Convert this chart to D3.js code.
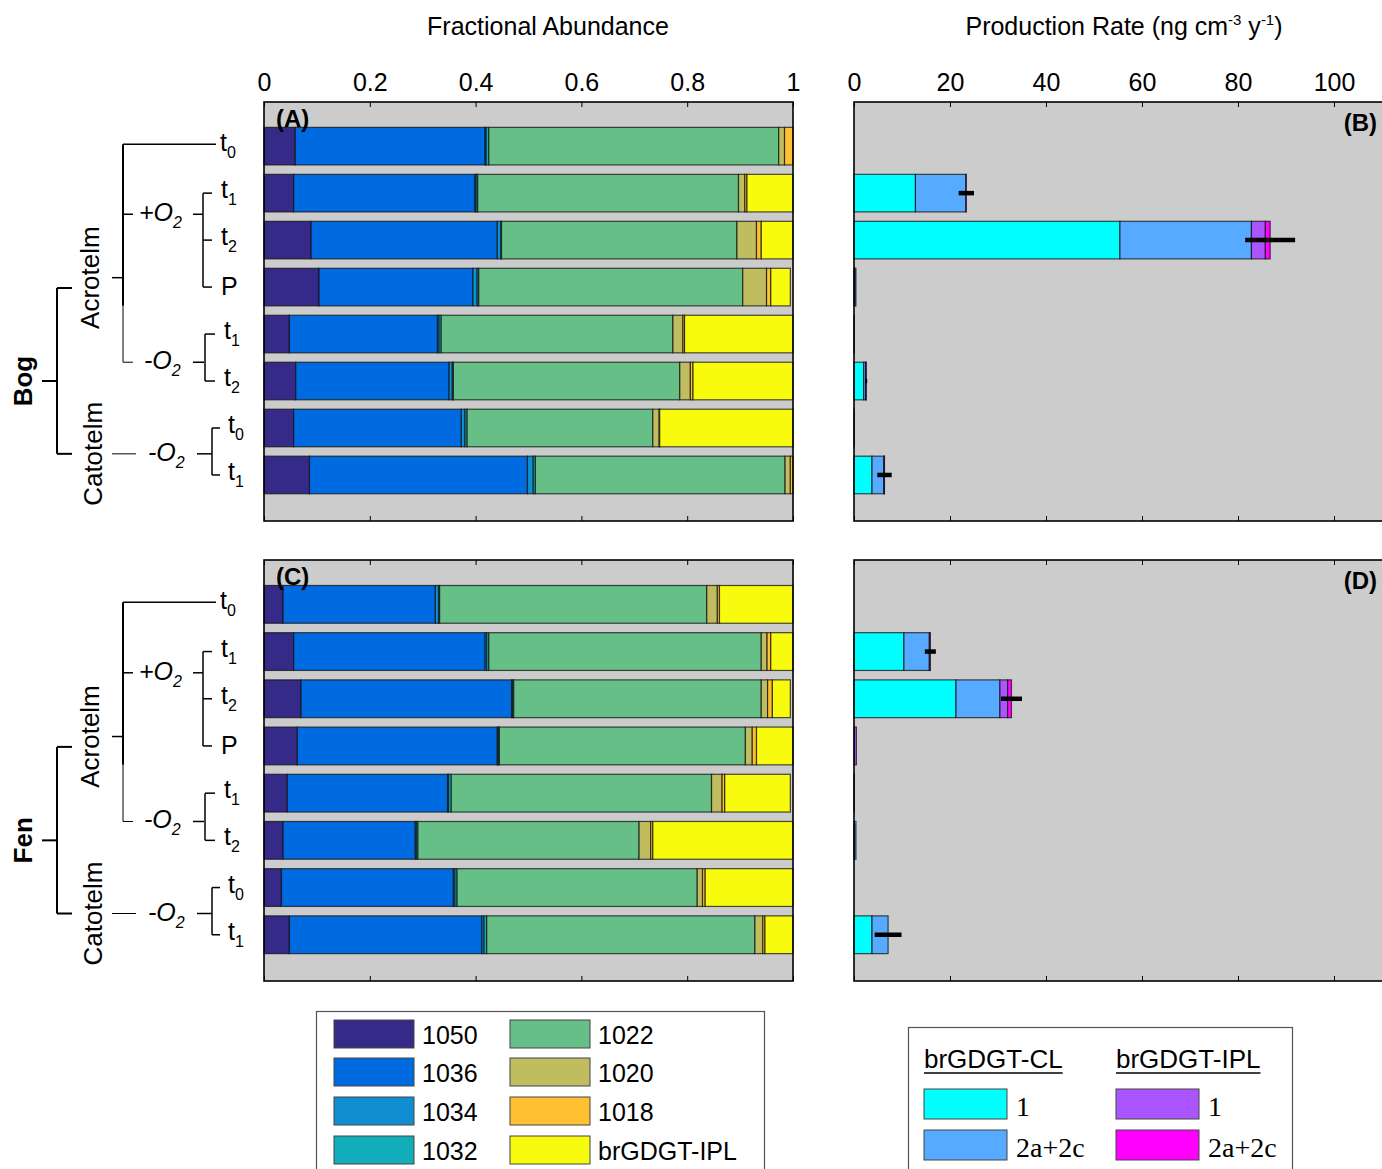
<!DOCTYPE html>
<html>
<head>
<meta charset="utf-8">
<script src="https://cdn.jsdelivr.net/npm/d3@7/dist/d3.min.js"></script>
<style>
body { margin: 0; background: #fff; }
svg { font-family: "Liberation Sans", Arial, sans-serif; }
</style>
</head>
<body>
<svg id="chart" width="1382" height="1169"></svg>
<script>
// compounds in stacking order
var compounds = ["1050", "1036", "1034", "1032", "1022", "1020", "1018", "brGDGT-IPL"];
var compoundColors = ["#352a87", "#006ae0", "#108ed2", "#12adba", "#66bf87", "#bfbd60", "#ffc132", "#f9fb0e"];

// rows, top to bottom: Acro t0, +O2 t1, +O2 t2, +O2 P, -O2 t1, -O2 t2, Cato t0, Cato t1
var rowLabels = ["0", "1", "2", "P", "1", "2", "0", "1"];

// fractional abundance, bog
var bog1050 = [0.059, 0.056, 0.089, 0.104, 0.048, 0.060, 0.056, 0.086];
var bog1036 = [0.359, 0.343, 0.352, 0.291, 0.280, 0.290, 0.317, 0.412];
var bog1034 = [0.002, 0.002, 0.007, 0.008, 0.003, 0.006, 0.007, 0.011];
var bog1032 = [0.005, 0.003, 0.001, 0.003, 0.004, 0.002, 0.004, 0.004];
var bog1022 = [0.548, 0.493, 0.445, 0.499, 0.438, 0.428, 0.351, 0.472];
var bog1020 = [0.011, 0.012, 0.037, 0.045, 0.019, 0.020, 0.012, 0.010];
var bog1018 = [0.016, 0.004, 0.009, 0.008, 0.003, 0.005, 0.001, 0.005];
var bogIPL  = [0.000, 0.087, 0.060, 0.037, 0.205, 0.189, 0.252, 0.000];

// fractional abundance, fen
var fen1050 = [0.036, 0.056, 0.070, 0.063, 0.044, 0.036, 0.033, 0.048];
var fen1036 = [0.288, 0.362, 0.398, 0.378, 0.303, 0.250, 0.325, 0.364];
var fen1034 = [0.006, 0.003, 0.002, 0.002, 0.002, 0.002, 0.003, 0.004];
var fen1032 = [0.002, 0.004, 0.002, 0.002, 0.005, 0.003, 0.004, 0.005];
var fen1022 = [0.505, 0.515, 0.468, 0.465, 0.492, 0.418, 0.454, 0.507];
var fen1020 = [0.020, 0.011, 0.012, 0.013, 0.020, 0.022, 0.010, 0.015];
var fen1018 = [0.004, 0.007, 0.009, 0.008, 0.005, 0.004, 0.005, 0.004];
var fenIPL  = [0.139, 0.042, 0.034, 0.069, 0.124, 0.265, 0.166, 0.053];

// production rate (ng cm-3 y-1)
var rateKeys = ["CL 1", "CL 2a+2c", "IPL 1", "IPL 2a+2c"];
var rateColors = ["#00ffff", "#56aaff", "#aa55ff", "#ff00ff"];
var bogCL1  = [0, 12.8, 55.4, 0.2, 0, 2.0, 0, 3.75];
var bogCL2  = [0, 10.5, 27.4, 0.2, 0, 0.4, 0, 2.45];
var bogIPL1 = [0, 0, 2.9, 0, 0, 0.1, 0, 0.1];
var bogIPL2 = [0, 0.1, 1.0, 0, 0.05, 0.05, 0.05, 0.05];
var bogErr  = [0, 1.6, 5.2, 0, 0, 0.2, 0, 1.5];

var fenCL1  = [0, 10.4, 21.25, 0, 0, 0.1, 0, 3.75];
var fenCL2  = [0, 5.3, 9.15, 0, 0, 0.3, 0, 3.35];
var fenIPL1 = [0, 0.1, 1.6, 0.5, 0, 0, 0, 0];
var fenIPL2 = [0, 0.1, 0.8, 0, 0.05, 0, 0, 0];
var fenErr  = [0, 1.15, 2.2, 0, 0, 0, 0, 2.8];

var fracTicks = [0, 0.2, 0.4, 0.6, 0.8, 1];
var rateTicks = [0, 20, 40, 60, 80, 100];

var svg = d3.select("#chart");

function table(keys, arrays) {
	return arrays[0].map(function(v, i) {
		var r = {row: i + 1};
		keys.forEach(function(k, j) { r[k] = arrays[j][i]; });
		return r;
	});
}

var bogFrac = table(compounds, [bog1050, bog1036, bog1034, bog1032, bog1022, bog1020, bog1018, bogIPL]);
var fenFrac = table(compounds, [fen1050, fen1036, fen1034, fen1032, fen1022, fen1020, fen1018, fenIPL]);
var bogRate = table(rateKeys, [bogCL1, bogCL2, bogIPL1, bogIPL2]);
var fenRate = table(rateKeys, [fenCL1, fenCL2, fenIPL1, fenIPL2]);

var xFrac = d3.scaleLinear().domain([0, 1]).range([264, 793]);
var xRate = d3.scaleLinear().domain([0, 110]).range([854, 1382]);

function stackPanel(data, keys, colors, x, y, top, bottom) {
	var g = svg.append("g");
	g.append("rect")
		.attr("x", x.range()[0]).attr("y", top)
		.attr("width", x.range()[1] - x.range()[0] + (x === xRate ? 4 : 0))
		.attr("height", bottom - top)
		.attr("fill", "#cccccc");
	var barH = (y(2) - y(1)) * 0.8;
	var series = d3.stack().keys(keys)(data);
	g.selectAll("g.ser")
		.data(series)
		.enter().append("g")
		.attr("fill", function(d, i) { return colors[i]; })
		.selectAll("rect")
		.data(function(d) { return d.filter(function(s) { return s[1] - s[0] > 0; }); })
		.enter().append("rect")
		.attr("x", function(d) { return x(d[0]); })
		.attr("width", function(d) { return x(d[1]) - x(d[0]); })
		.attr("y", function(d) { return y(d.data.row) - barH / 2; })
		.attr("height", barH)
		.attr("stroke", "#111")
		.attr("stroke-opacity", 0.75)
		.attr("stroke-width", 1.2);
	return g;
}

function axes(x, ticks, top, bottom, labels) {
	var ax = svg.append("g").attr("transform", "translate(0," + top + ")")
		.call(d3.axisTop(x).tickValues(ticks).tickSize(-5).tickPadding(11)
			.tickFormat(labels ? d3.format("~g") : ""));
	ax.select(".domain").remove();
	ax.selectAll("text").attr("font-size", 25).attr("fill", "#000")
		.attr("font-family", "Liberation Sans, Arial, sans-serif");
	var bx = svg.append("g").attr("transform", "translate(0," + bottom + ")")
		.call(d3.axisBottom(x).tickValues(ticks).tickSize(-5).tickFormat(""));
	bx.select(".domain").remove();
}

function box(x0, x1, top, bottom) {
	svg.append("rect")
		.attr("x", x0).attr("y", top).attr("width", x1 - x0).attr("height", bottom - top)
		.attr("fill", "none").attr("stroke", "#000").attr("stroke-width", 1.6);
}

function errorBars(data, errs, y) {
	svg.append("g").selectAll("line")
		.data(data.filter(function(d, i) { return errs[i] > 0; }))
		.enter().append("line")
		.attr("x1", function(d) { var t = d3.sum(rateKeys, function(k) { return d[k]; }); return xRate(t - errs[d.row - 1]); })
		.attr("x2", function(d) { var t = d3.sum(rateKeys, function(k) { return d[k]; }); return xRate(t + errs[d.row - 1]); })
		.attr("y1", function(d) { return y(d.row); })
		.attr("y2", function(d) { return y(d.row); })
		.attr("stroke", "#000").attr("stroke-width", 4.5);
}

function line(x1, y1, x2, y2, w) {
	svg.append("line").attr("x1", x1).attr("y1", y1).attr("x2", x2).attr("y2", y2)
		.attr("stroke", "#000").attr("stroke-width", w || 1.5);
}

function label(txt, sub, x, yy, italic) {
	var t = svg.append("text").attr("x", x).attr("y", yy).attr("font-size", 25)
		.attr("font-style", italic ? "italic" : "normal").text(txt);
	if (sub) t.append("tspan").attr("font-size", 16).attr("dy", 7).text(sub);
}

function tree(y, site) {
	// acrotelm branch
	line(123, y(1) - 2, 216, y(1) - 2);
	label("t", rowLabels[0], 220, y(1) + 5);
	line(123, y(1) - 2, 123, y(4.4), 2);
	line(123, y(4.4), 123, y(5.6), 1);
	line(123, y(2.45), 133, y(2.45));
	label("+O", "2", 139, y(2.45) + 7, true);
	line(193, y(2.45), 203, y(2.45));
	line(203, y(2), 203, y(4));
	[2, 3, 4].forEach(function(r) {
		line(203, y(r), 212, y(r));
		label(rowLabels[r - 1] === "P" ? "P" : "t", rowLabels[r - 1] === "P" ? null : rowLabels[r - 1], 221, y(r) + (rowLabels[r - 1] === "P" ? 8 : 5));
	});
	line(123, y(5.6), 133, y(5.6), 1);
	label("-O", "2", 144, y(5.6) + 7, true);
	line(193, y(5.6), 204, y(5.6));
	line(205, y(5), 205, y(6));
	[5, 6].forEach(function(r) {
		line(205, y(r), 215, y(r));
		label("t", rowLabels[r - 1], 224, y(r) + 5);
	});
	line(112, y(3.8), 123, y(3.8));
	// catotelm branch
	line(112, y(7.55), 136, y(7.55), 1);
	label("-O", "2", 148, y(7.55) + 7, true);
	line(197, y(7.55), 212, y(7.55));
	line(212, y(7), 212, y(8));
	[7, 8].forEach(function(r) {
		line(212, y(r), 220, y(r));
		label("t", rowLabels[r - 1], 228, y(r) + 5);
	});
	// site bracket
	line(57, y(4.02), 57, y(7.55), 2);
	line(57, y(4.02), 72, y(4.02), 2);
	line(57, y(7.55), 72, y(7.55), 2);
	line(42, y(6), 57, y(6), 2);
	svg.append("text").attr("transform", "translate(90," + y(3.8) + ") rotate(-90)")
		.attr("text-anchor", "middle").attr("dy", "0.35em").attr("font-size", 26).text("Acrotelm");
	svg.append("text").attr("transform", "translate(93," + y(7.55) + ") rotate(-90)")
		.attr("text-anchor", "middle").attr("dy", "0.35em").attr("font-size", 26).text("Catotelm");
	svg.append("text").attr("transform", "translate(23," + y(6) + ") rotate(-90)")
		.attr("text-anchor", "middle").attr("dy", "0.35em").attr("font-size", 26)
		.attr("font-weight", "bold").text(site);
}

function panelLabel(txt, x, yy, anchor) {
	svg.append("text").attr("x", x).attr("y", yy).attr("font-size", 24)
		.attr("font-weight", "bold").attr("text-anchor", anchor).text(txt);
}

// bog (top) and fen (bottom)
var panels = [
	{site: "Bog", frac: bogFrac, rate: bogRate, err: bogErr, top: 102, bottom: 521, labels: true, a: "(A)", b: "(B)"},
	{site: "Fen", frac: fenFrac, rate: fenRate, err: fenErr, top: 560, bottom: 981, labels: false, a: "(C)", b: "(D)"}
];

panels.forEach(function(p) {
	var y = d3.scaleLinear().domain([0.06, 8.98]).range([p.top, p.bottom]);
	stackPanel(p.frac, compounds, compoundColors, xFrac, y, p.top, p.bottom);
	axes(xFrac, fracTicks, p.top, p.bottom, p.labels);
	box(264, 793, p.top, p.bottom);
	panelLabel(p.a, 276, p.top + 25, "start");

	stackPanel(p.rate, rateKeys, rateColors, xRate, y, p.top, p.bottom);
	errorBars(p.rate, p.err, y);
	axes(xRate, rateTicks, p.top, p.bottom, p.labels);
	box(854, 1386, p.top, p.bottom);
	panelLabel(p.b, 1377, p.top + 29, "end");

	tree(y, p.site);
});

// headers
svg.append("text").attr("x", 548).attr("y", 35).attr("text-anchor", "middle")
	.attr("font-size", 25).text("Fractional Abundance");
var h = svg.append("text").attr("x", 1124).attr("y", 35).attr("text-anchor", "middle").attr("font-size", 25);
h.append("tspan").text("Production Rate (ng cm");
h.append("tspan").attr("font-size", 15).attr("dy", -10).text("-3");
h.append("tspan").attr("dy", 10).text(" y");
h.append("tspan").attr("font-size", 15).attr("dy", -10).text("-1");
h.append("tspan").attr("dy", 10).text(")");

// legend: compounds
svg.append("rect").attr("x", 316.5).attr("y", 1011.5).attr("width", 448).attr("height", 180)
	.attr("fill", "#fff").attr("stroke", "#555").attr("stroke-width", 1.2);
var leg = svg.append("g").selectAll("g").data(compounds).enter().append("g")
	.attr("transform", function(d, i) {
		return "translate(" + (334 + Math.floor(i / 4) * 176) + "," + [1020, 1058, 1097, 1136][i % 4] + ")";
	});
leg.append("rect").attr("width", 80).attr("height", 28)
	.attr("fill", function(d, i) { return compoundColors[i]; })
	.attr("stroke", "#444").attr("stroke-width", 1);
leg.append("text").attr("x", 88).attr("y", 24).attr("font-size", 25).text(function(d) { return d; });

// legend: production rate
svg.append("rect").attr("x", 908.5).attr("y", 1027.5).attr("width", 384).attr("height", 160)
	.attr("fill", "#fff").attr("stroke", "#555").attr("stroke-width", 1.2);
["brGDGT-CL", "brGDGT-IPL"].forEach(function(t, c) {
	var tx = 924 + c * 192;
	var tt = svg.append("text").attr("x", tx).attr("y", 1068).attr("font-size", 26).text(t);
	var w = tt.node().getComputedTextLength();
	line(tx, 1073, tx + w, 1073, 1.5);
});
var leg2 = svg.append("g").selectAll("g").data(rateKeys).enter().append("g")
	.attr("transform", function(d, i) {
		return "translate(" + (924 + Math.floor(i / 2) * 192) + "," + (1089 + (i % 2) * 41) + ")";
	});
leg2.append("rect").attr("width", 83).attr("height", 30)
	.attr("fill", function(d, i) { return rateColors[i]; })
	.attr("stroke", "#444").attr("stroke-width", 1);
leg2.append("text").attr("x", 92).attr("y", 27).attr("font-size", 28)
	.attr("font-family", "Liberation Serif, serif")
	.text(function(d) { return d.split(" ")[1]; });
</script>
</body>
</html>
